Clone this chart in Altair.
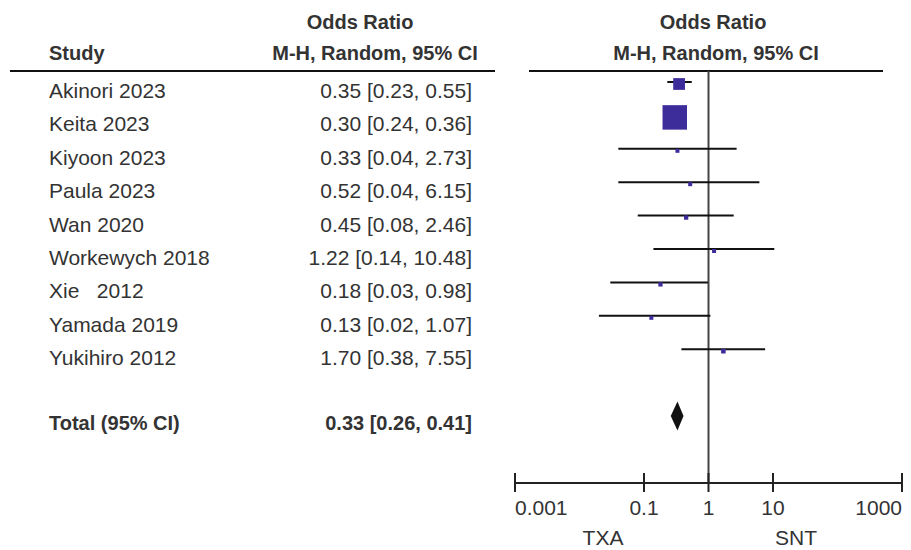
import altair as alt
import pandas as pd

# ---------------- data ----------------
studies = ["Akinori 2023", "Keita 2023", "Kiyoon 2023", "Paula 2023", "Wan 2020",
           "Workewych 2018", "Xie\u00a0\u00a0\u00a02012", "Yamada 2019", "Yukihiro 2012"]
odds = [0.35, 0.30, 0.33, 0.52, 0.45, 1.22, 0.18, 0.13, 1.70]
ci_low = [0.23, 0.24, 0.04, 0.04, 0.08, 0.14, 0.03, 0.02, 0.38]
ci_high = [0.55, 0.36, 2.73, 6.15, 2.46, 10.48, 0.98, 1.07, 7.55]
weights = [16.5, 75.0, 1.0, 0.9, 1.3, 1.0, 1.3, 1.0, 1.6]   # estimated from square sizes
rows = list(range(len(studies)))

total_label = "Total (95% CI)"
total_or, total_low, total_high = 0.33, 0.26, 0.41
total_row = 10

tick_values = [0.001, 0.1, 1, 10, 1000]
tick_labels = ["0.001", "0.1", "1", "10", "1000"]
favours = ["TXA", "SNT"]

# ---------------- tables ----------------
df = pd.DataFrame({
    "study": studies, "or": odds, "lo": ci_low, "hi": ci_high,
    "w": weights, "row": rows,
})
df["txt"] = [f"{o:.2f} [{l:.2f}, {h:.2f}]" for o, l, h in zip(odds, ci_low, ci_high)]

tot = pd.DataFrame({"study": [total_label], "row": [total_row],
                    "txt": [f"{total_or:.2f} [{total_low:.2f}, {total_high:.2f}]"]})

HALF = 0.434  # diamond half height in row units
dia = pd.DataFrame({
    "x": [total_low, total_or, total_high],
    "y": [total_row, total_row - HALF, total_row],
    "y2": [total_row, total_row + HALF, total_row],
})

ticks = pd.DataFrame({"v": tick_values, "lab": tick_labels})

FONT = "Liberation Sans"
TXT = "#333333"
SQ = "#3D2D9B"

xs = alt.Scale(type="log", domain=[0.001, 1000], range=[507, 894])
ys = alt.Scale(domain=[0, 10], range=[74, 408], zero=False, nice=False)

base = alt.Chart(df)

def label(text, x, y, align="center", bold=False, size=21):
    return alt.Chart(pd.DataFrame({"t": [text]})).mark_text(
        font=FONT, fontSize=size, fontWeight="bold" if bold else "normal",
        color=TXT, align=align, baseline="alphabetic"
    ).encode(text="t:N", x=alt.value(x), y=alt.value(y))

headers = [
    label("Odds Ratio", 352, 21, bold=True, size=20),
    label("M-H, Random, 95% CI", 367, 52, bold=True, size=20),
    label("Study", 41, 52, align="left", bold=True, size=20),
    label("Odds Ratio", 705, 21, bold=True, size=20),
    label("M-H, Random, 95% CI", 708, 52, bold=True, size=20),
]

hdr_line_l = alt.Chart(pd.DataFrame({"a": [0]})).mark_rule(color="#111", strokeWidth=2).encode(
    x=alt.value(2), x2=alt.value(487), y=alt.value(63))
hdr_line_r = alt.Chart(pd.DataFrame({"a": [0]})).mark_rule(color="#111", strokeWidth=2).encode(
    x=alt.value(521), x2=alt.value(875), y=alt.value(63))

names = base.mark_text(font=FONT, fontSize=21, color=TXT, align="left",
                       baseline="alphabetic", dy=16).encode(
    x=alt.value(41), y=alt.Y("row:Q", scale=ys, axis=None), text="study:N")
ortxt = base.mark_text(font=FONT, fontSize=21, color=TXT, align="right",
                       baseline="alphabetic", dy=16).encode(
    x=alt.value(464), y=alt.Y("row:Q", scale=ys, axis=None), text="txt:N")

tot_name = alt.Chart(tot).mark_text(font=FONT, fontSize=20, fontWeight="bold", color=TXT,
                                    align="left", baseline="alphabetic", dy=14).encode(
    x=alt.value(41), y=alt.Y("row:Q", scale=ys, axis=None), text="study:N")
tot_txt = alt.Chart(tot).mark_text(font=FONT, fontSize=20, fontWeight="bold", color=TXT,
                                   align="right", baseline="alphabetic", dy=14).encode(
    x=alt.value(464), y=alt.Y("row:Q", scale=ys, axis=None), text="txt:N")

ci = base.mark_rule(color="#111", strokeWidth=2).encode(
    x=alt.X("lo:Q", scale=xs, axis=None), x2="hi:Q",
    y=alt.Y("row:Q", scale=ys, axis=None))

squares = base.mark_square(color=SQ, opacity=1, yOffset=2).encode(
    x=alt.X("or:Q", scale=xs, axis=None),
    y=alt.Y("row:Q", scale=ys, axis=None),
    size=alt.Size("w:Q", scale=alt.Scale(domain=[1, 75], range=[16, 600], clamp=True), legend=None))

diamond = alt.Chart(dia).mark_area(color="#111", orient="vertical", opacity=1).encode(
    x=alt.X("x:Q", scale=xs, axis=None),
    y=alt.Y("y:Q", scale=ys, axis=None), y2="y2:Q")

vline = alt.Chart(pd.DataFrame({"v": [1]})).mark_rule(color="#444", strokeWidth=2).encode(
    x=alt.X("v:Q", scale=xs, axis=None), y=alt.value(63), y2=alt.value(475))

axis_line = alt.Chart(pd.DataFrame({"a": [tick_values[0]], "b": [tick_values[-1]]})).mark_rule(
    color="#222", strokeWidth=2).encode(
    x=alt.X("a:Q", scale=xs, axis=None), x2="b:Q", y=alt.value(475))

tick_marks = alt.Chart(ticks).mark_rule(color="#222", strokeWidth=2).encode(
    x=alt.X("v:Q", scale=xs, axis=None), y=alt.value(465), y2=alt.value(484))

def tick_text(sub, align):
    return alt.Chart(sub).mark_text(font=FONT, fontSize=21, color=TXT, align=align,
                                    baseline="alphabetic").encode(
        x=alt.X("v:Q", scale=xs, axis=None), y=alt.value(507), text="lab:N")

tl_left = tick_text(ticks.iloc[[0]], "left")
tl_mid = tick_text(ticks.iloc[1:-1], "center")
tl_right = tick_text(ticks.iloc[[-1]], "right")

fav_l = label(favours[0], 595, 537)
fav_r = label(favours[1], 788, 537)

chart = alt.layer(
    *headers, hdr_line_l, hdr_line_r,
    names, ortxt, tot_name, tot_txt,
    vline, ci, squares, diamond,
    axis_line, tick_marks, tl_left, tl_mid, tl_right, fav_l, fav_r,
).properties(
    width=895, height=542, autosize=alt.AutoSizeParams(type="none"), padding=0
).configure_view(stroke=None)

chart.save("out.html", embed_options={"renderer": "svg", "actions": False})
